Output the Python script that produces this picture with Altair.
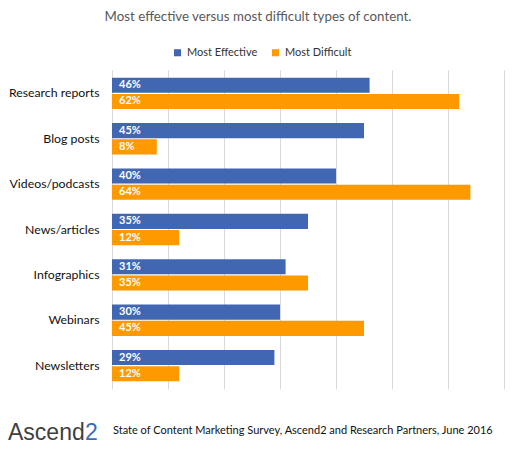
import altair as alt
import pandas as pd

categories = ["Research reports", "Blog posts", "Videos/podcasts", "News/articles",
              "Infographics", "Webinars", "Newsletters"]
series = ["Most Effective", "Most Difficult"]
effective = [46, 45, 40, 35, 31, 30, 29]
difficult = [62, 8, 64, 12, 35, 45, 12]
colors = ["#4267B2", "#FF9900"]

title_text = "Most effective versus most difficult types of content."
footer_text = "State of Content Marketing Survey, Ascend2 and Research Partners, June 2016"

rows = []
for c, e, d in zip(categories, effective, difficult):
    rows.append({"category": c, "series": series[0], "value": e, "label": f"{e}%"})
    rows.append({"category": c, "series": series[1], "value": d, "label": f"{d}%"})
df = pd.DataFrame(rows)

FONT = "Lato"

y_enc = alt.Y("category:N", sort=categories,
              scale=alt.Scale(paddingInner=0.31, paddingOuter=0.17),
              axis=alt.Axis(title=None, ticks=False, domain=False, labelPadding=13,
                            labelFontSize=12.3, labelColor="#111", labelFont=FONT))
yoff = alt.YOffset("series:N", sort=series, scale=alt.Scale(paddingInner=0.07, paddingOuter=0))

base = alt.Chart(df)
bars = base.mark_bar().encode(
    y=y_enc,
    x=alt.X("value:Q", scale=alt.Scale(domain=[0, 70], nice=False),
            axis=alt.Axis(title=None, labels=False, ticks=False, domain=False, grid=True,
                          gridColor="#d9d9d9", values=[0, 10, 20, 30, 40, 50, 60, 70])),
    yOffset=yoff,
    color=alt.Color("series:N", sort=series,
                    scale=alt.Scale(domain=series, range=colors),
                    legend=alt.Legend(orient="none", legendX=60, legendY=-23,
                                      direction="horizontal", title=None,
                                      symbolType="square", symbolSize=50,
                                      symbolStrokeWidth=0, labelFontSize=11,
                                      labelFont=FONT, labelColor="#333",
                                      columnPadding=12)),
)

labels = base.mark_text(align="left", baseline="middle", dx=7, color="white",
                        fontWeight="bold", fontSize=11, font=FONT).encode(
    y=alt.Y("category:N", sort=categories),
    yOffset=yoff,
    x=alt.value(0),
    text="label:N",
)

tdf = pd.DataFrame({"t": [title_text]})
title = alt.Chart(tdf).mark_text(align="center", baseline="middle", fontSize=13.3,
                                 font=FONT, color="#595959").encode(
    x=alt.value(146), y=alt.value(-53), text="t:N")

fdf = pd.DataFrame({"t": [footer_text]})
footer = alt.Chart(fdf).mark_text(align="left", baseline="middle", fontSize=11,
                                  font=FONT, color="#111").encode(
    x=alt.value(1), y=alt.value(361), text="t:N")

ldf = pd.DataFrame({"t": ["Ascend"]})
logo1 = alt.Chart(ldf).mark_text(align="left", baseline="alphabetic", fontSize=23,
                                 font="Liberation Sans", color="#3f3f3f").encode(
    x=alt.value(-104), y=alt.value(370), text="t:N")
l2df = pd.DataFrame({"t": ["2"]})
logo2 = alt.Chart(l2df).mark_text(align="left", baseline="alphabetic", fontSize=23,
                                  font="Liberation Sans", color="#3b6cb5").encode(
    x=alt.value(-27), y=alt.value(370), text="t:N")

chart = alt.layer(bars, labels, title, footer, logo1, logo2).properties(
    width=392, height=319,
    autosize=alt.AutoSizeParams(type="none"),
    padding={"left": 104, "top": 62, "right": 5, "bottom": 60},
).configure_view(stroke=None)

chart.save("out.html", embed_options={"renderer": "svg", "actions": False})
